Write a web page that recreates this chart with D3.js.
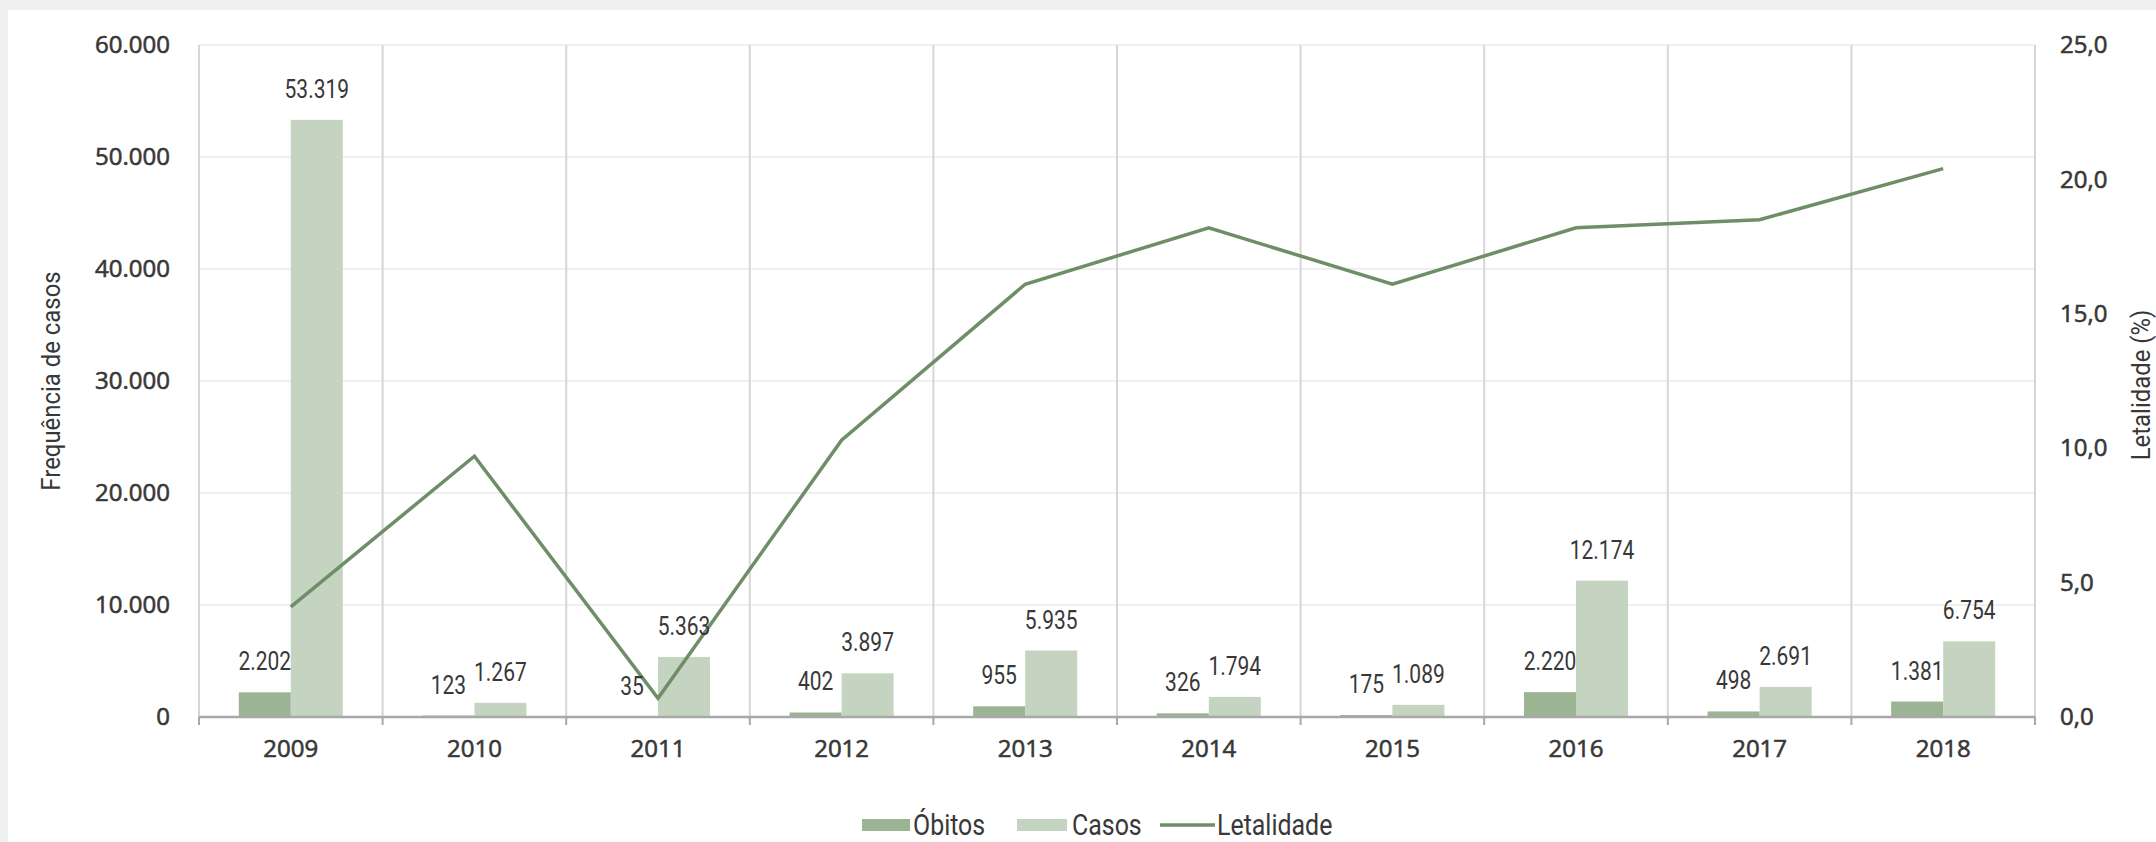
<!DOCTYPE html>
<html>
<head>
<meta charset="utf-8">
<script src="https://cdn.jsdelivr.net/npm/d3@7"></script>
<style>
  html, body { margin: 0; padding: 0; background: #eef0f2; }
  svg { display: block; }
</style>
</head>
<body>
<svg id="chart" width="2156" height="842"></svg>
<script>
// Casos, óbitos e letalidade por ano
const years = ["2009", "2010", "2011", "2012", "2013", "2014", "2015", "2016", "2017", "2018"];
const obitos = [2202, 123, 35, 402, 955, 326, 175, 2220, 498, 1381];
const casos = [53319, 1267, 5363, 3897, 5935, 1794, 1089, 12174, 2691, 6754];
const letalidade = [4.1, 9.7, 0.7, 10.3, 16.1, 18.2, 16.1, 18.2, 18.5, 20.4];
const casosTicks = [0, 10000, 20000, 30000, 40000, 50000, 60000];
const letalidadeTicks = [0, 5, 10, 15, 20, 25];
const seriesNames = ["Óbitos", "Casos", "Letalidade"];

const colObitos = "#9bb493";
const colCasos = "#c4d4c0";
const colLine = "#6f8e68";
const textCol = "#383838";

const ptBR = d3.formatLocale({ decimal: ",", thousands: ".", grouping: [3], currency: ["R$", ""] });
const fmtInt = ptBR.format(",d");
const fmtPct = ptBR.format(".1f");

const svg = d3.select("#chart");

// white panel
svg.append("rect").attr("x", 8).attr("y", 10).attr("width", 2148).attr("height", 832).attr("fill", "#ffffff");

const plotLeft = 199, plotRight = 2035, plotTop = 45, plotBottom = 717;

const x0 = d3.scaleBand().domain(years).range([plotLeft, plotRight]).padding(0);
const x1 = d3.scaleBand().domain(["obitos", "casos"]).range([0, x0.bandwidth()]).paddingInner(0).paddingOuter(0.765);
const y = d3.scaleLinear().domain([0, 60000]).range([plotBottom, plotTop]);
const y2 = d3.scaleLinear().domain([0, 25]).range([plotBottom, plotTop]);

// horizontal grid
svg.append("g").selectAll("line").data(casosTicks.slice(1)).join("line")
  .attr("x1", plotLeft).attr("x2", plotRight)
  .attr("y1", d => y(d)).attr("y2", d => y(d))
  .attr("stroke", "#efefef").attr("stroke-width", 2);

// vertical grid at category boundaries
const bounds = years.map(d => x0(d)).concat([plotRight]);
svg.append("g").selectAll("line").data(bounds).join("line")
  .attr("x1", d => d).attr("x2", d => d)
  .attr("y1", plotTop).attr("y2", plotBottom)
  .attr("stroke", "#d6d6d6").attr("stroke-width", 2);

// condensed text helper
function ctext(g, x, yy, str, size, anchor, sx, weight) {
  return g.append("text")
    .attr("transform", `translate(${x},${yy}) scale(${sx},1)`)
    .attr("text-anchor", anchor)
    .attr("font-family", "Roboto, 'Noto Sans', sans-serif")
    .attr("font-size", size)
    .attr("font-weight", weight || 400)
    .attr("fill", textCol)
    .text(str);
}

// medium-weight look for tick labels
function styleTicks(sel) {
  sel.attr("font-family", "'Open Sans', sans-serif").attr("font-size", 24).attr("font-weight", 400)
    .attr("fill", textCol).attr("stroke", textCol).attr("stroke-width", 0.6);
}

// bars
const rows = years.map((yr, i) => ({ yr, obitos: obitos[i], casos: casos[i], let: letalidade[i] }));
const barsG = svg.append("g");
barsG.selectAll("rect.ob").data(rows).join("rect").attr("class", "ob")
  .attr("x", d => x0(d.yr) + x1("obitos")).attr("width", x1.bandwidth())
  .attr("y", d => y(d.obitos)).attr("height", d => plotBottom - y(d.obitos))
  .attr("fill", colObitos);
barsG.selectAll("rect.ca").data(rows).join("rect").attr("class", "ca")
  .attr("x", d => x0(d.yr) + x1("casos")).attr("width", x1.bandwidth())
  .attr("y", d => y(d.casos)).attr("height", d => plotBottom - y(d.casos))
  .attr("fill", colCasos);

// x axis
const xAxis = svg.append("g").attr("transform", `translate(0,${plotBottom})`)
  .call(d3.axisBottom(x0).tickSize(0).tickPadding(0));
xAxis.select(".domain").remove();
xAxis.selectAll("text").attr("y", 40).attr("dy", null).call(styleTicks);
svg.append("line").attr("x1", plotLeft).attr("x2", plotRight).attr("y1", plotBottom).attr("y2", plotBottom)
  .attr("stroke", "#a8a8a8").attr("stroke-width", 2.5);
svg.append("g").selectAll("line").data(bounds).join("line")
  .attr("x1", d => d).attr("x2", d => d).attr("y1", plotBottom).attr("y2", plotBottom + 8)
  .attr("stroke", "#a8a8a8").attr("stroke-width", 2);

// left axis
const yAxis = svg.append("g").attr("transform", `translate(${plotLeft - 29},0)`)
  .call(d3.axisLeft(y).tickValues(casosTicks).tickFormat(fmtInt).tickSize(0).tickPadding(0));
yAxis.select(".domain").remove();
yAxis.selectAll("text").call(styleTicks);

// right axis
const y2Axis = svg.append("g").attr("transform", `translate(${plotRight + 25},0)`)
  .call(d3.axisRight(y2).tickValues(letalidadeTicks).tickFormat(fmtPct).tickSize(0).tickPadding(0));
y2Axis.select(".domain").remove();
y2Axis.selectAll("text").call(styleTicks);

// line
const cx = d => x0(d.yr) + x0.bandwidth() / 2;
svg.append("path").datum(rows)
  .attr("d", d3.line().x(cx).y(d => y2(d.let)))
  .attr("fill", "none").attr("stroke", colLine).attr("stroke-width", 3.5)
  .attr("stroke-linejoin", "miter");

// data labels
const labG = svg.append("g");
rows.forEach(d => {
  ctext(labG, x0(d.yr) + x1("obitos") + x1.bandwidth() / 2, y(d.obitos) - 22, fmtInt(d.obitos), 25, "middle", 0.84);
  ctext(labG, x0(d.yr) + x1("casos") + x1.bandwidth() / 2, y(d.casos) - 22, fmtInt(d.casos), 25, "middle", 0.84);
});

// axis titles
const tY = svg.append("g").attr("transform", "translate(60,381) rotate(-90)");
ctext(tY, 0, 0, "Frequência de casos", 26, "middle", 0.92);
const tY2 = svg.append("g").attr("transform", "translate(2150,385) rotate(-90)");
ctext(tY2, 0, 0, "Letalidade (%)", 26, "middle", 0.92);

// legend
const lg = svg.append("g");
lg.append("rect").attr("x", 862).attr("y", 819).attr("width", 48).attr("height", 12).attr("fill", colObitos);
ctext(lg, 913, 835, seriesNames[0], 29, "start", 0.86);
lg.append("rect").attr("x", 1017).attr("y", 819).attr("width", 50).attr("height", 12).attr("fill", colCasos);
ctext(lg, 1072, 835, seriesNames[1], 29, "start", 0.86);
lg.append("line").attr("x1", 1160).attr("x2", 1215).attr("y1", 825).attr("y2", 825)
  .attr("stroke", colLine).attr("stroke-width", 3.5);
ctext(lg, 1217, 835, seriesNames[2], 29, "start", 0.86);
</script>
</body>
</html>
